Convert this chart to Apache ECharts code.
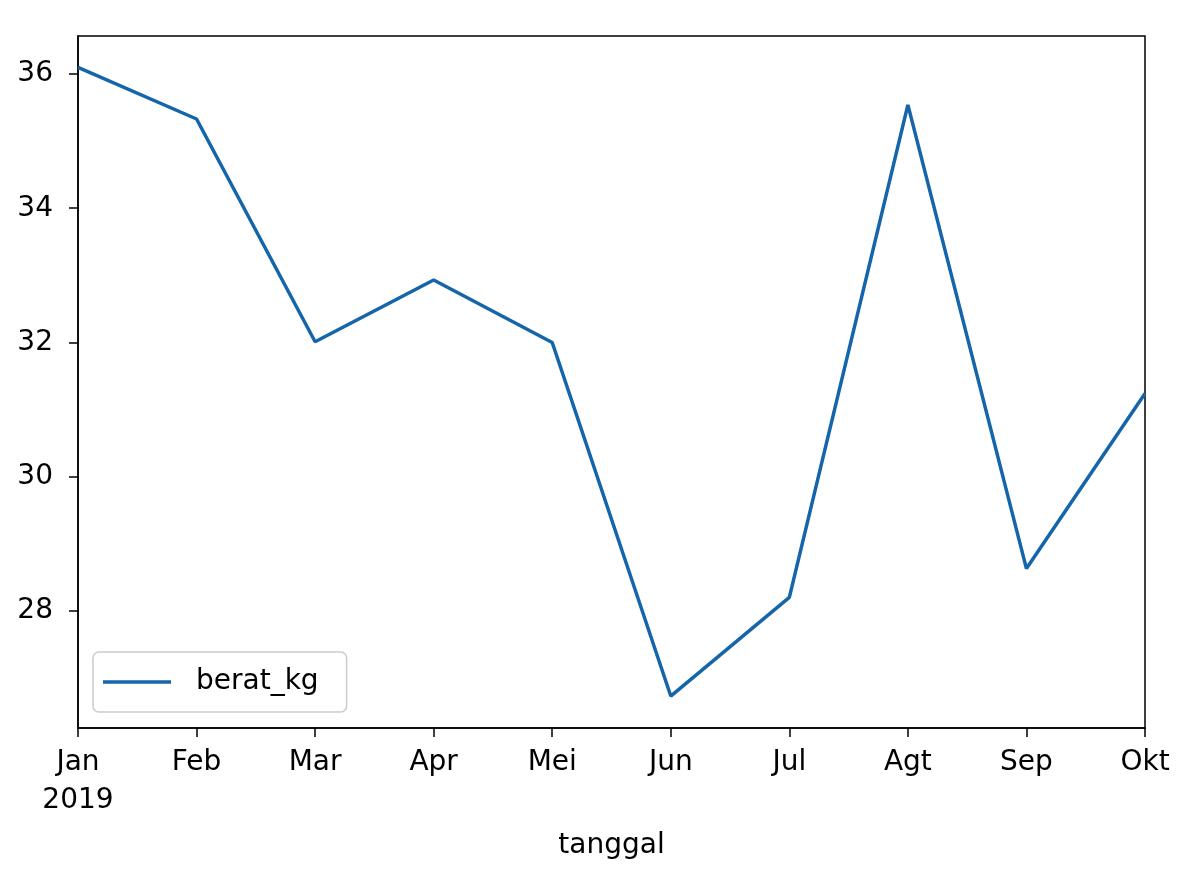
<!DOCTYPE html>
<html>
<head>
<meta charset="utf-8">
<script src="https://cdn.jsdelivr.net/npm/echarts@6/dist/echarts.min.js"></script>
<style>
  html, body { margin: 0; padding: 0; background: #fff; }
  #chart { width: 1189px; height: 880px; }
</style>
</head>
<body>
<div id="chart"></div>
<script>
// data
const months = ['Jan\n2019', 'Feb', 'Mar', 'Apr', 'Mei', 'Jun', 'Jul', 'Agt', 'Sep', 'Okt'];
const beratKg = [36.1, 35.33, 32.01, 32.93, 32.0, 26.73, 28.2, 35.54, 28.63, 31.24];
const yTicks = [28, 30, 32, 34, 36];

const chart = echarts.init(document.getElementById('chart'));
const font = 'DejaVu Sans';
const lineColor = '#1565ab';

var option = {
    backgroundColor: '#ffffff',
    animation: false,
    textStyle: { fontFamily: font },
    grid: {
        left: 78, right: 44, top: 36, bottom: 152,
        show: true, borderColor: '#000', borderWidth: 1.5
    },
    legend: {
        left: 93, top: 652,
        padding: [16, 28, 16, 10],
        borderColor: '#cccccc', borderWidth: 1.5, borderRadius: 6,
        itemWidth: 68, itemHeight: 3.5,
        icon: 'rect',
        textStyle: { fontFamily: font, fontSize: 28, color: '#000', padding: [0, 0, 0, 20] },
        data: ['berat_kg']
    },
    xAxis: {
        type: 'category',
        data: months,
        boundaryGap: false,
        name: 'tanggal',
        nameLocation: 'middle',
        nameGap: 104,
        nameTextStyle: { fontFamily: font, fontSize: 28, color: '#000' },
        axisLine: { lineStyle: { color: '#000', width: 1.5 } },
        axisTick: { length: 9, lineStyle: { color: '#000', width: 1.5 } },
        axisLabel: { fontFamily: font, fontSize: 28, color: '#000', margin: 16, lineHeight: 38 },
        splitLine: { show: false }
    },
    yAxis: {
        type: 'value',
        min: 26.254,
        max: 36.567,
        axisLine: { show: true, lineStyle: { color: '#000', width: 1.5 } },
        axisTick: { show: true, length: 9, customValues: yTicks, lineStyle: { color: '#000', width: 1.5 } },
        axisLabel: { fontFamily: font, fontSize: 28, color: '#000', margin: 25, customValues: yTicks },
        splitLine: { show: false }
    },
    series: [{
        name: 'berat_kg',
        type: 'line',
        data: beratKg,
        symbol: 'none',
        lineStyle: { color: lineColor, width: 3.5 },
        itemStyle: { color: lineColor }
    }]
};

chart.setOption(option);
</script>
</body>
</html>
